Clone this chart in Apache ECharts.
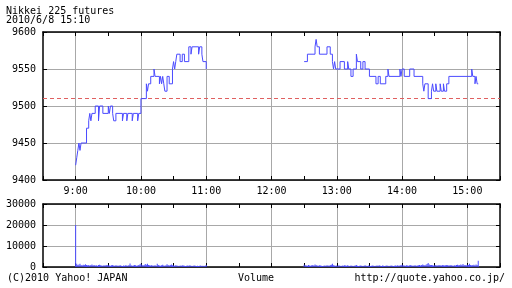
<!DOCTYPE html>
<html><head><meta charset="utf-8">
<script src="https://cdn.jsdelivr.net/npm/echarts@6/dist/echarts.min.js"></script>
<style>html,body{margin:0;padding:0;background:#fff}#c{width:512px;height:288px}</style>
</head><body><div id="c"></div>
<script>
// ---- data (minutes after 9:00 where the price changed, and the new price) ----
const amTimes  = [0,1,2,3,4,5,10,12,13,14,15,18,21,22,25,30,31,32,34,35,37,43,44,47,48,52,53,57,58,60,65,66,67,69,72,73,77,78,79,80,81,82,84,86,89,90,91,92,93,96,98,100,104,106,107,113,114,116,117,120];
const amPrices = [9420,9430,9440,9450,9440,9450,9470,9480,9490,9480,9490,9500,9480,9500,9490,9500,9490,9500,9490,9480,9490,9480,9490,9480,9490,9480,9490,9480,9490,9510,9530,9520,9530,9540,9550,9540,9530,9540,9530,9540,9530,9520,9540,9530,9550,9560,9550,9560,9570,9560,9570,9560,9580,9570,9580,9570,9580,9570,9560,9550];
const pmTimes  = [210,213,220,221,222,224,231,234,236,237,238,239,243,247,250,251,253,255,258,259,262,264,266,270,276,278,280,285,287,288,298,299,300,302,307,311,319,320,321,324,327,328,329,331,332,335,336,338,339,341,343,364,365,367,368,369,370];
const pmPrices = [9560,9570,9580,9590,9580,9570,9580,9570,9560,9550,9560,9550,9560,9550,9560,9550,9540,9550,9570,9560,9550,9560,9550,9540,9530,9540,9530,9540,9550,9540,9550,9540,9550,9540,9550,9540,9530,9520,9530,9510,9520,9530,9520,9530,9520,9530,9520,9530,9520,9530,9540,9550,9540,9530,9540,9530,9530];
const prevClose = 9510;
// volume per minute, morning from 9:00, afternoon from 12:30
const volAMStart = 0;
const volAM = [20000,1500,900,1200,1600,1000,800,1100,900,1300,
  1000,800,900,700,1000,1200,800,900,700,800,
  600,900,1100,800,700,600,800,700,900,1000,
  800,700,600,800,900,700,600,800,700,600,
  700,800,600,500,700,600,800,700,600,900,
  1700,800,600,700,900,800,600,700,1000,1200,
  1500,900,800,1000,1400,1100,1600,900,800,700,
  1000,600,700,800,600,1500,900,700,600,800,
  1100,700,600,800,1300,1000,700,900,1200,800,
  700,600,800,700,600,500,700,600,800,700,
  600,500,600,700,600,800,600,500,600,700,
  600,500,600,500,600,700,500,600,500,600,
  900];
const volPMStart = 210;
const volPM = [1100,800,700,600,900,700,600,800,1000,700,
  1200,900,700,600,800,700,600,500,600,700,
  600,800,700,600,900,1100,1500,800,700,600,
  700,600,800,600,500,700,600,800,700,600,
  800,600,500,700,600,500,600,700,1000,600,
  500,600,700,600,500,600,800,600,500,700,
  600,500,600,700,600,500,600,700,600,800,
  600,500,700,600,500,600,700,600,500,600,
  700,600,500,600,700,600,800,600,700,900,
  1100,800,700,600,800,700,600,800,900,700,
  600,700,800,600,700,800,900,700,1000,1200,
  900,800,1100,1400,1900,1200,1000,900,800,700,
  800,900,700,800,1000,800,700,900,800,700,
  800,1000,900,700,800,900,700,600,800,700,
  900,1100,800,1000,1200,900,1400,1000,900,800,
  1100,900,1500,1000,800,900,1100,800,1200,900,
  3000];
const priceTicks = [9400,9450,9500,9550,9600];
const volTicks = [0,10000,20000,30000];
const titleLines = ['Nikkei 225 futures','2010/6/8 15:10'];
const footer = ['(C)2010 Yahoo! JAPAN','Volume','http://quote.yahoo.co.jp/'];

// ---- build ----
const BASE = 540; // 9:00 in minutes of day
const amData = amTimes.map((t,i)=>[BASE+t, amPrices[i]]);
const pmData = pmTimes.map((t,i)=>[BASE+t, pmPrices[i]]);
const volData = volAM.map((v,i)=>[BASE+volAMStart+i, v]).concat(volPM.map((v,i)=>[BASE+volPMStart+i, v]));

const FONT = 'DejaVu Sans Mono';
const BLUE = '#4b4bff';
const GRAY = '#a8a8a8';
const xMin = 510, xMax = 930;
function xAxisDef(grid, pos, labels, split){
  return {type:'value', gridIndex:grid, position:pos, min:xMin, max:xMax, interval:30,
    axisLine:{show:true, onZero:false, lineStyle:{color:'#000', width:1.5}},
    axisTick:{show:true, inside:true, length:4, lineStyle:{color:'#000', width:1}},
    axisLabel:{show:labels, margin:6, color:'#000', fontFamily:FONT, fontSize:10,
      formatter:v=> v%60===0 ? (v/60)+':00' : ''},
    splitLine:{show:split, showMinLine:true, showMaxLine:true, lineStyle:{color:['rgba(0,0,0,0)',GRAY], width:1}}};
}
function yAxisDef(grid, pos, min, max, interval, labels, split){
  return {type:'value', gridIndex:grid, position:pos, min, max, interval,
    axisLine:{show:true, onZero:false, lineStyle:{color:'#000', width:1.5}},
    axisTick:{show:true, inside:true, length:4, lineStyle:{color:'#000', width:1}},
    axisLabel:{show:labels, margin:7, color:'#000', fontFamily:FONT, fontSize:10,
      formatter:v=>String(v)},
    splitLine:{show:split, lineStyle:{color:GRAY, width:1}}};
}

const chart = echarts.init(document.getElementById('c'), null, {renderer:'canvas'});
chart.setOption({
  animation:false,
  backgroundColor:'#fff',
  textStyle:{fontFamily:FONT},
  grid:[{left:43, top:32, width:457, height:148},{left:43, top:204, width:457, height:63}],
  xAxis:[xAxisDef(0,'bottom',true,true), xAxisDef(0,'top',false,false),
         xAxisDef(1,'bottom',false,true), xAxisDef(1,'top',false,false)],
  yAxis:[yAxisDef(0,'left',priceTicks[0],priceTicks[priceTicks.length-1],50,true,true),
         yAxisDef(0,'right',priceTicks[0],priceTicks[priceTicks.length-1],50,false,false),
         yAxisDef(1,'left',volTicks[0],volTicks[volTicks.length-1],10000,true,true),
         yAxisDef(1,'right',volTicks[0],volTicks[volTicks.length-1],10000,false,false)],
  series:[
    {type:'line', xAxisIndex:0, yAxisIndex:0, data:amData, step:'end', symbol:'none',
      lineStyle:{color:BLUE, width:1}, z:5,
      markLine:{silent:true, symbol:'none', label:{show:false},
        lineStyle:{color:'#e06060', type:[4,3], width:1}, data:[{yAxis:prevClose}]}},
    {type:'line', xAxisIndex:0, yAxisIndex:0, data:pmData, step:'end', symbol:'none',
      lineStyle:{color:BLUE, width:1}, z:5},
    {type:'bar', xAxisIndex:2, yAxisIndex:2, data:volData, barWidth:1,
      itemStyle:{color:BLUE}, z:5}
  ],
  graphic:[
    {type:'text', left:6, top:6, style:{text:titleLines[0], font:'10px "'+FONT+'"', fill:'#000'}},
    {type:'text', left:6, top:15, style:{text:titleLines[1], font:'10px "'+FONT+'"', fill:'#000'}},
    {type:'text', left:7, top:273, style:{text:footer[0], font:'10px "'+FONT+'"', fill:'#000'}},
    {type:'text', x:256, y:273, style:{text:footer[1], font:'10px "'+FONT+'"', fill:'#000', textAlign:'center'}},
    {type:'text', right:7, top:273, style:{text:footer[2], font:'10px "'+FONT+'"', fill:'#000'}}
  ]
});
</script></body></html>
